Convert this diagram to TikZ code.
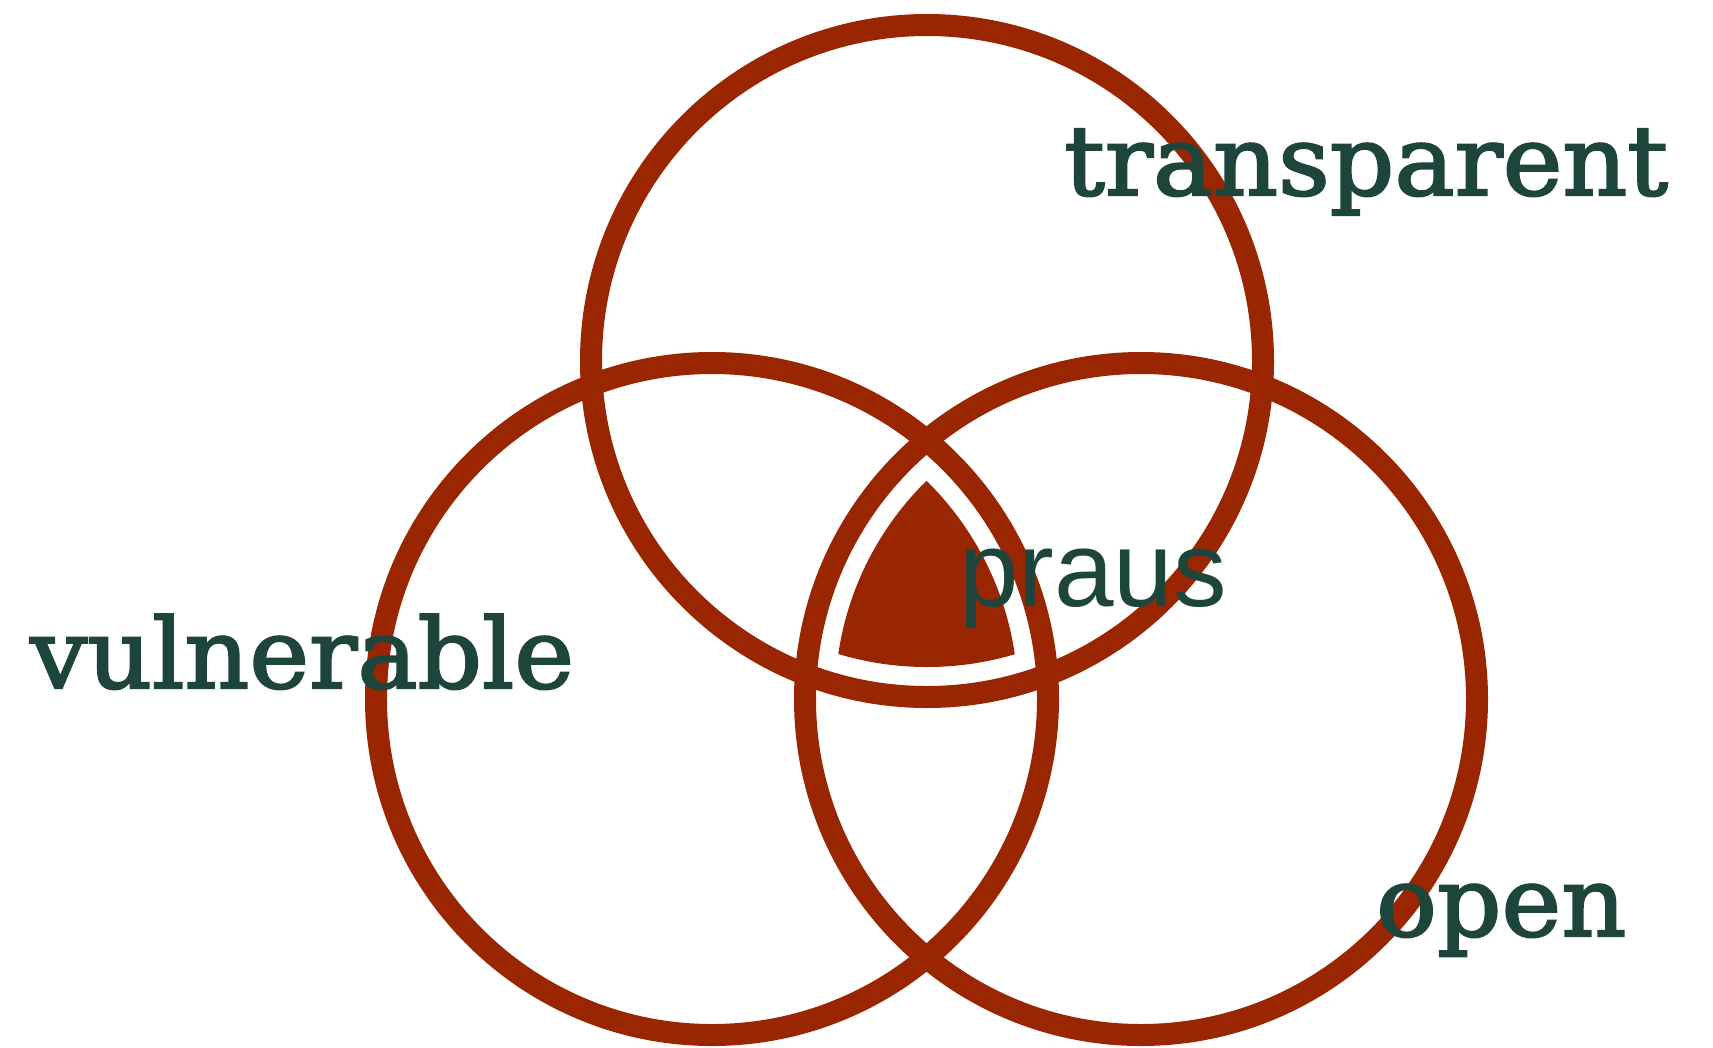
\documentclass[tikz,border=0pt]{standalone}
\usepackage{fontspec}
\setmainfont{DejaVu Serif}
\newfontfamily\wordfont[FakeBold=2.2]{DejaVu Serif}
\newfontfamily\prausfont{Liberation Sans}
\definecolor{ring}{RGB}{153,38,0}
\definecolor{inkgreen}{RGB}{29,69,60}
\begin{document}
\begin{tikzpicture}[x=1pt,y=-1pt,
  ringline/.style={draw=ring, line width=22pt},
  wordlabel/.style={inner sep=0pt, anchor=base west, text=inkgreen, xscale=1.04, font=\wordfont\fontsize{97}{110}\selectfont},
  prauslabel/.style={inner sep=0pt, anchor=base west, text=inkgreen, font=\prausfont\fontsize{107}{120}\selectfont}]
\useasboundingbox (0,0) rectangle (1713,1047);
\fill[white] (0,0) rectangle (1713,1047);
\coordinate (T) at (927,361);
\coordinate (L) at (712,699);
\coordinate (R) at (1141,699);
\begin{scope}
  \clip (T) circle[radius=306];
  \clip (L) circle[radius=306];
  \fill[ring] (R) circle[radius=306];
\end{scope}
\draw[ringline] (T) circle[radius=336];
\draw[ringline] (L) circle[radius=336];
\draw[ringline] (R) circle[radius=336];
\node[wordlabel] (transparent) at (1064,195) {transparent};
\node[wordlabel] (vulnerable) at (30,688) {vulnerable};
\node[wordlabel] (open) at (1376,936) {open};
\node[prauslabel] (praus) at (959,606) {praus};
\end{tikzpicture}
\end{document}
